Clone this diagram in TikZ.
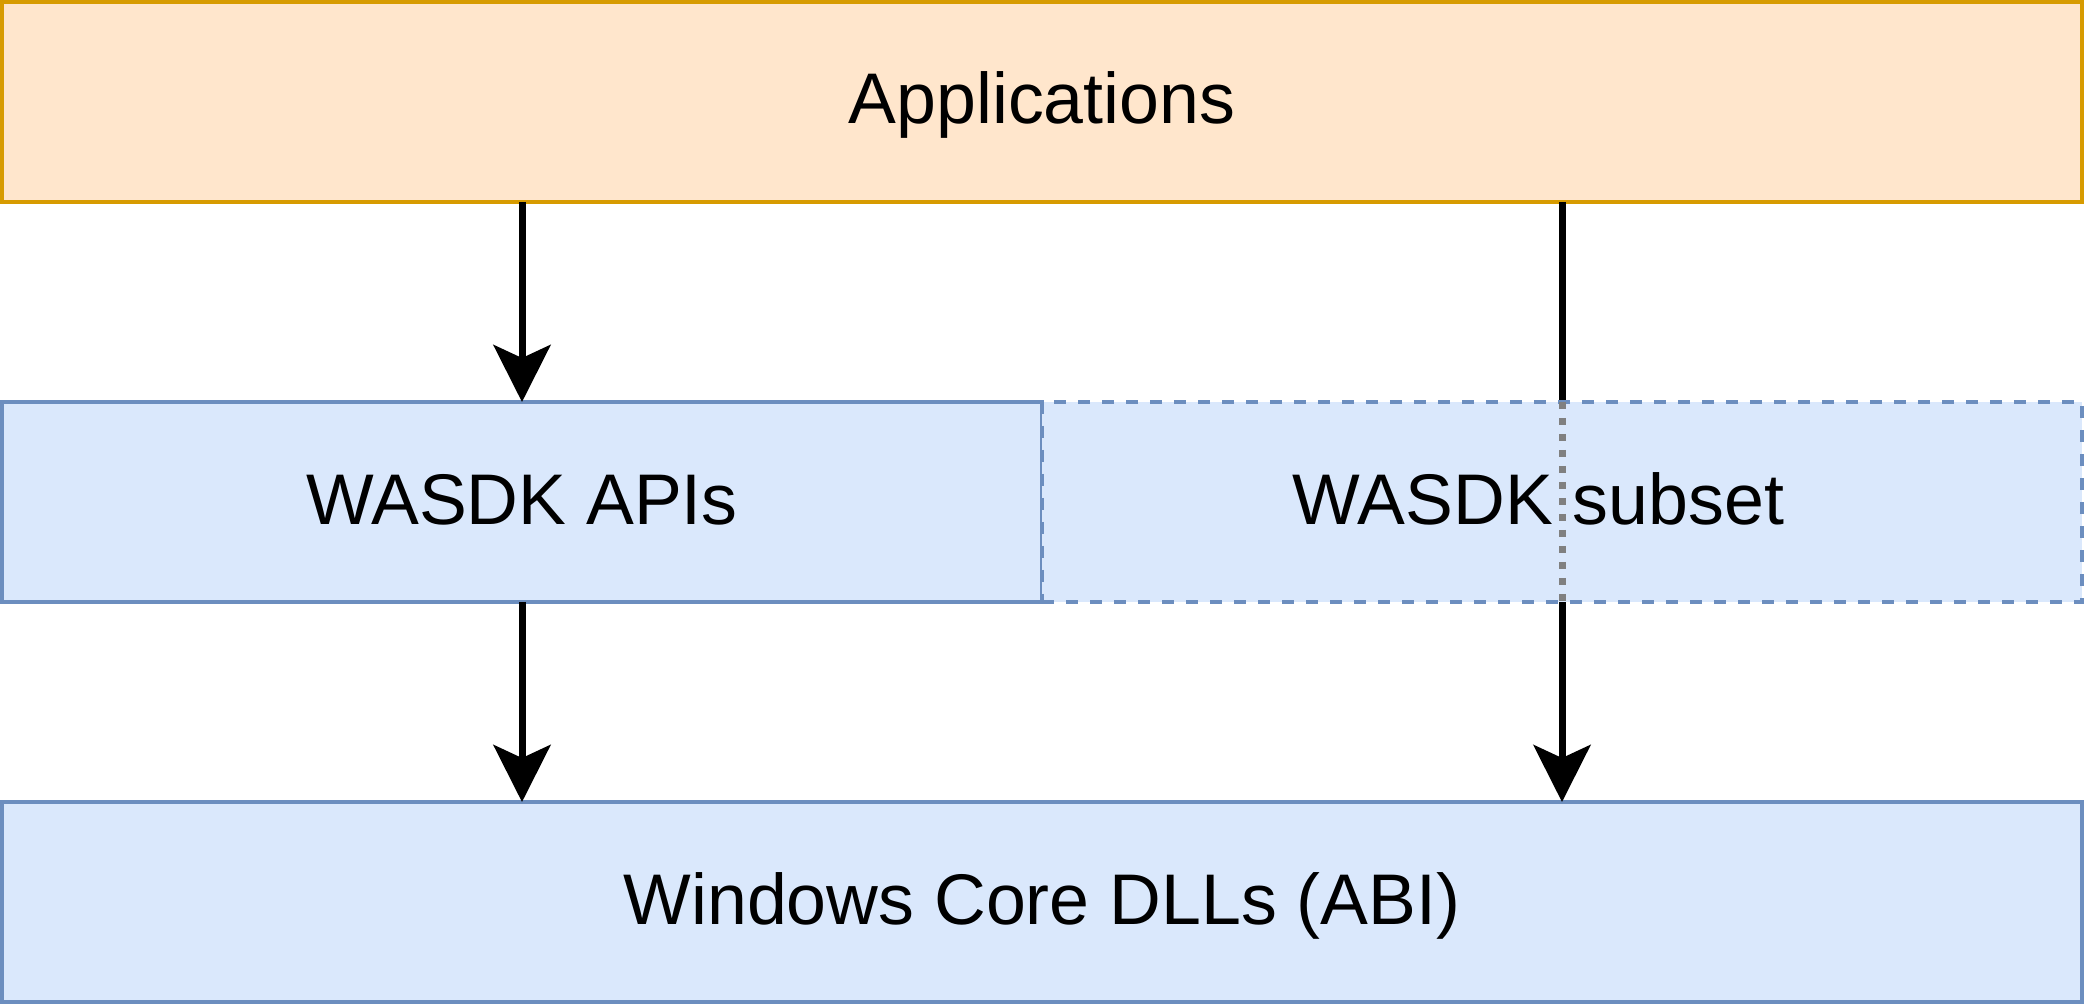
\documentclass[tikz,border=0pt]{standalone}
\usepackage{fontspec}
\setmainfont{Liberation Sans}
\usetikzlibrary{arrows.meta}
\definecolor{appfill}{HTML}{FFE6CC}
\definecolor{appline}{HTML}{D79B00}
\definecolor{apifill}{HTML}{DAE8FC}
\definecolor{apiline}{HTML}{6C8EBF}
\begin{document}
\begin{tikzpicture}[x=0.1mm,y=-0.1mm,
    layer/.style={rectangle,draw=apiline,fill=apifill,line width=0.33mm,
      minimum width=104mm,minimum height=20mm,inner sep=0pt,outer sep=0pt,
      text height=4.4mm,text depth=0mm,font=\fontsize{20.4}{24}\selectfont},
    call/.style={-{Stealth[length=5.7mm,width=5.7mm,inset=1.3mm]},line width=0.7mm}]
    \useasboundingbox (0,0) rectangle (2088,1004);
    \node[layer,draw=appline,fill=appfill,minimum width=208mm] (app) at (1042,102) {Applications};
    \node[layer] (api) at (522,502) {WASDK APIs};
    \node[layer,minimum width=208mm] (core) at (1042,902) {Windows Core DLLs (ABI)};
    \coordinate (mid) at (1562,502);
    \draw[call] (app.south -| api) -- (api.north);
    \draw[call] (api.south) -- (core.north -| api);
    \draw[call] (app.south -| mid) -- (core.north -| mid);
    \node[layer,dash pattern=on 1.2mm off 1.2mm] (sub) at (mid) {WASDK subset\hspace*{4.7mm}};
    \draw[gray,line width=0.7mm,dash pattern=on 0.7mm off 0.9mm] (sub.north) -- (sub.south);
  \end{tikzpicture}
\end{document}
